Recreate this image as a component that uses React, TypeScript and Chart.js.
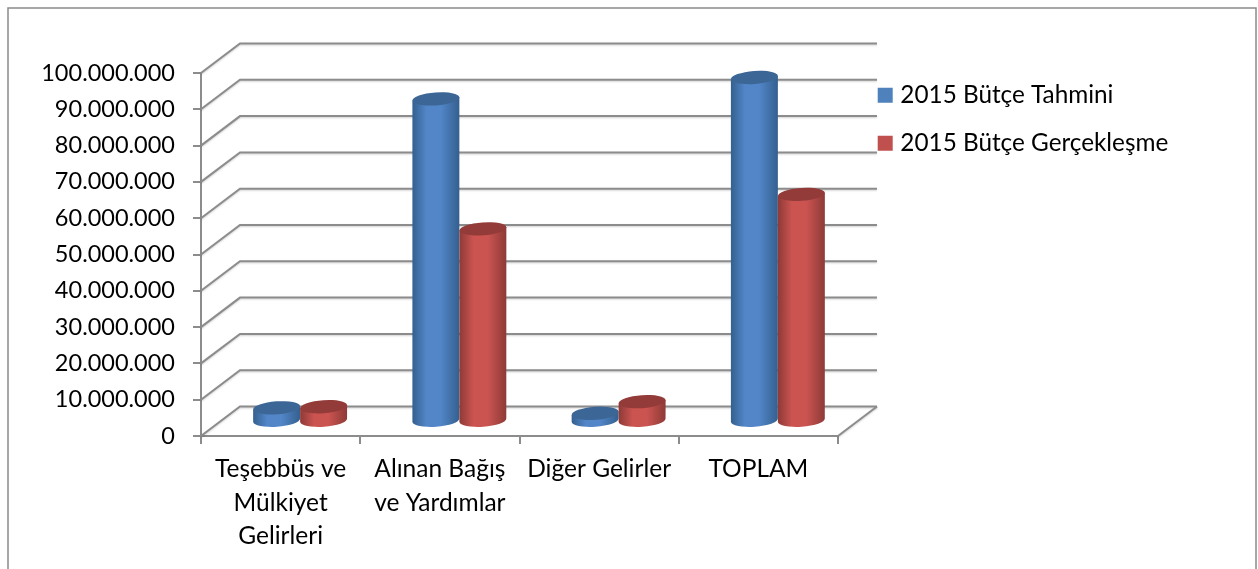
import React, { useEffect, useRef } from "react";
import { Chart, registerables } from "chart.js";

Chart.register(...registerables);

const categories: (string | string[])[] = [
  ["Teşebbüs ve", "Mülkiyet", "Gelirleri"],
  ["Alınan Bağış", "ve Yardımlar"],
  "Diğer Gelirler",
  "TOPLAM",
];
const tahminiLabel = "2015 Bütçe Tahmini";
const gerceklesmeLabel = "2015 Bütçe Gerçekleşme";
const tahminiValues = [3700000, 88800000, 2200000, 94700000];
const gerceklesmeValues = [4000000, 53000000, 5400000, 62500000];

const AXIS = "#8c8c8c";
const DEPTH_X = 39;
const DEPTH_Y = 29.5;

const tones: Record<number, { edge: string; mid: string; top: string }> = {
  0: { edge: "#34608f", mid: "#5286c8", top: "#3c6695" },
  1: { edge: "#8e3a37", mid: "#cb5451", top: "#933b39" },
};

const scene = {
  id: "scene3d",
  beforeLayout(chart: any) {
    const legend = chart.legend;
    if (legend && !legend.__wrapped) {
      legend.__wrapped = true;
      const fit = legend.fit;
      legend.fit = function () {
        fit.call(this);
        this.width = 420;
      };
    }
  },
  afterLayout(chart: any) {
    if (chart.legend) {
      chart.legend.left = 858.5;
      chart.legend.top = 59.5;
    }
  },
  beforeDraw(chart: any) {
    const { ctx, width, height } = chart;
    ctx.save();
    ctx.fillStyle = "#ffffff";
    ctx.fillRect(0, 0, width, height);
    ctx.strokeStyle = "#8a8a8a";
    ctx.lineWidth = 1.5;
    ctx.beginPath();
    ctx.moveTo(8, height);
    ctx.lineTo(8, 8);
    ctx.lineTo(width - 2, 8);
    ctx.lineTo(width - 2, height);
    ctx.stroke();
    ctx.restore();
  },
  beforeDatasetsDraw(chart: any) {
    const { ctx, chartArea, scales } = chart;
    const { left, right, bottom } = chartArea;
    ctx.save();
    ctx.strokeStyle = AXIS;
    ctx.lineWidth = 2;
    ctx.shadowColor = "rgba(0,0,0,0.18)";
    ctx.shadowBlur = 2;
    ctx.shadowOffsetY = 1;
    scales.y.ticks.forEach((t: any) => {
      const y = scales.y.getPixelForValue(t.value);
      ctx.beginPath();
      ctx.moveTo(left, y);
      ctx.lineTo(left + DEPTH_X, y - DEPTH_Y);
      ctx.lineTo(right + DEPTH_X, y - DEPTH_Y);
      ctx.stroke();
    });
    ctx.beginPath();
    ctx.moveTo(right, bottom);
    ctx.lineTo(right + DEPTH_X, bottom - DEPTH_Y);
    ctx.stroke();
    ctx.restore();
  },
  beforeDatasetDraw() {
    return false;
  },
  afterDatasetsDraw(chart: any) {
    const { ctx } = chart;
    const rot = -0.07;
    const ry = 6.5;
    const order: [number, number][] = [];
    chart.data.labels.forEach((_: any, i: number) => {
      order.push([0, i], [1, i]);
    });
    order.forEach(([ds, i]) => {
      const el: any = chart.getDatasetMeta(ds).data[i];
      const tone = tones[ds];
      const cx = el.x + DEPTH_X / 2;
      const yTop = el.y - DEPTH_Y / 2;
      const yBase = el.base - DEPTH_Y / 2;
      const rx = el.width / 2;
      const lift = rx * Math.sin(rot);
      const g = ctx.createLinearGradient(cx - rx, 0, cx + rx, 0);
      g.addColorStop(0, tone.edge);
      g.addColorStop(0.3, tone.mid);
      g.addColorStop(0.6, tone.mid);
      g.addColorStop(1, tone.edge);
      ctx.save();
      ctx.beginPath();
      ctx.moveTo(cx - rx, yTop - lift);
      ctx.lineTo(cx - rx, yBase - lift);
      ctx.ellipse(cx, yBase, rx, ry, rot, Math.PI, 0, true);
      ctx.lineTo(cx + rx, yTop + lift);
      ctx.closePath();
      ctx.fillStyle = g;
      ctx.fill();
      ctx.beginPath();
      ctx.ellipse(cx, yTop, rx, ry, rot, 0, Math.PI * 2);
      ctx.fillStyle = tone.top;
      ctx.fill();
      ctx.restore();
    });
  },
};

export default function App() {
  const ref = useRef<HTMLCanvasElement>(null);
  useEffect(() => {
    document.body.style.margin = "0";
    const chart = new Chart(ref.current as HTMLCanvasElement, {
      type: "bar",
      data: {
        labels: categories as any,
        datasets: [
          {
            label: tahminiLabel,
            data: tahminiValues,
            backgroundColor: "#4f81bd",
            borderColor: "#4f81bd",
            borderWidth: 9,
          },
          {
            label: gerceklesmeLabel,
            data: gerceklesmeValues,
            backgroundColor: "#c0504d",
            borderColor: "#c0504d",
            borderWidth: 9,
          },
        ],
      },
      options: {
        responsive: false,
        animation: false,
        datasets: { bar: { categoryPercentage: 0.59, barPercentage: 1 } },
        layout: { padding: { top: 73, left: 0, right: 0, bottom: 0 } },
        plugins: {
          tooltip: { enabled: false },
          legend: {
            position: "right",
            align: "start",
            labels: {
              boxWidth: 6,
              boxHeight: 6,
              padding: 23.7,
              color: "#000000",
              font: { family: "Lato", size: 24.3 },
            },
          },
        },
        scales: {
          x: {
            afterFit: (s: any) => {
              s.height = 133;
            },
            border: { color: AXIS, width: 2 },
            grid: { color: AXIS, lineWidth: 2, drawOnChartArea: false, tickLength: 8 },
            ticks: {
              maxRotation: 0,
              padding: 9,
              color: "#000000",
              font: { family: "Lato", size: 24.5, lineHeight: 1.35 },
            },
          },
          y: {
            min: 0,
            max: 100000000,
            afterFit: (s: any) => {
              s.width = 201;
            },
            border: { color: AXIS, width: 2 },
            grid: { color: AXIS, lineWidth: 2, drawOnChartArea: false, tickLength: 8 },
            ticks: {
              stepSize: 10000000,
              padding: 18,
              color: "#000000",
              font: { family: "Lato", size: 23.5 },
              callback: (v: any) => String(v).replace(/\B(?=(\d{3})+$)/g, "."),
            },
          },
        },
      },
      plugins: [scene as any],
    });
    return () => chart.destroy();
  }, []);
  return <canvas ref={ref} width={1258} height={569} style={{ display: "block" }} />;
}
